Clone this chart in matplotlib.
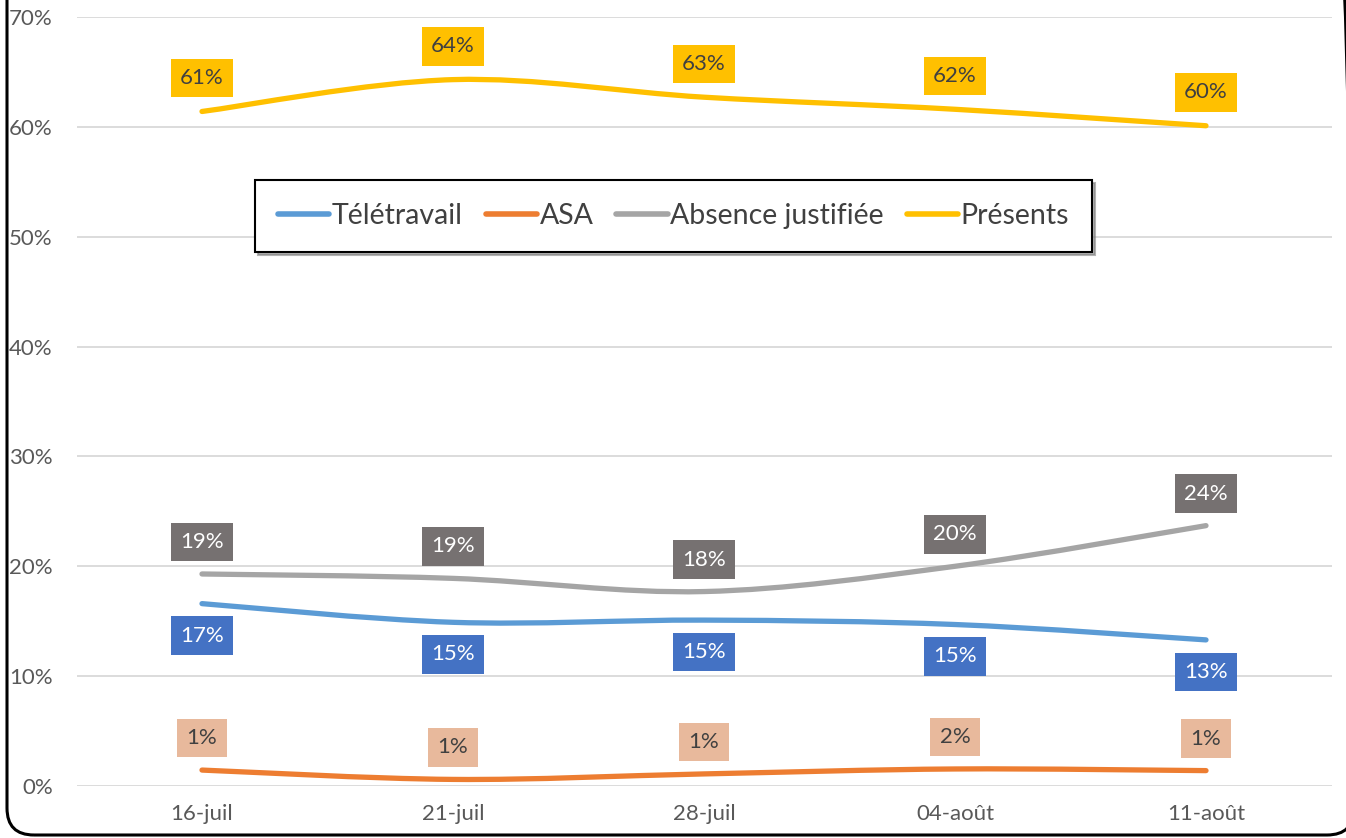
import numpy as np
import matplotlib
matplotlib.use("Agg")
import matplotlib.pyplot as plt
from matplotlib.path import Path
from matplotlib.patches import PathPatch, FancyBboxPatch
from matplotlib.lines import Line2D

plt.rcParams['font.family'] = ['Lato', 'DejaVu Sans']

dates = ["16-juil", "21-juil", "28-juil", "04-août", "11-août"]
teletravail = [16.6, 14.9, 15.1, 14.7, 13.3]
asa = [1.45, 0.6, 1.1, 1.55, 1.4]
absence = [19.3, 18.9, 17.7, 20.0, 23.7]
presents = [61.4, 64.3, 62.7, 61.6, 60.1]
series_names = ["Télétravail", "ASA", "Absence justifiée", "Présents"]

line_colors = ["#5B9BD5", "#ED7D31", "#A5A5A5", "#FFC000"]
box_colors = ["#4472C4", "#E8B99C", "#767171", "#FFC000"]
text_colors = ["white", "#404040", "white", "#404040"]
offsets = [-23, 23, 23, 24]  # points, label above (+) or below (-)


def smooth_path(xs, ys):
    # Excel-like bezier smoothing through the points
    pts = np.column_stack([xs, ys]).astype(float)
    n = len(pts)
    verts = [pts[0]]
    codes = [Path.MOVETO]
    for i in range(n - 1):
        p0 = pts[i - 1] if i > 0 else pts[i]
        p1 = pts[i]
        p2 = pts[i + 1]
        p3 = pts[i + 2] if i + 2 < n else pts[i + 1]
        c1 = p1 + (p2 - p0) / 6.0
        c2 = p2 - (p3 - p1) / 6.0
        verts += [c1, c2, p2]
        codes += [Path.CURVE4] * 3
    return Path(verts, codes)


W, H = 1346, 838
fig = plt.figure(figsize=(W / 100, H / 100), dpi=100)
ax = fig.add_axes([76.5 / W, 52 / H, (1331.5 - 76.5) / W, (786 - 17) / H])

x = np.arange(len(dates))
all_series = [teletravail, asa, absence, presents]
for vals, name, lc, bc, tc, off in zip(all_series, series_names, line_colors,
                                         box_colors, text_colors, offsets):
    patch = PathPatch(smooth_path(x, vals), facecolor="none", edgecolor=lc,
                      lw=3.8, capstyle="round", joinstyle="round", zorder=3)
    ax.add_patch(patch)
    for xi, v in zip(x, vals):
        ax.annotate(f"{round(v):.0f}%", (xi, v), xytext=(0, off),
                    textcoords="offset points", ha="center", va="center",
                    fontsize=16, color=tc, zorder=5,
                    bbox=dict(boxstyle="square,pad=0.42", fc=bc, ec="none"))

ax.set_xlim(-0.5, len(dates) - 0.5)
ax.set_ylim(0, 70)
ax.set_yticks(np.arange(0, 71, 10))
ax.set_yticklabels([f"{t}%" for t in range(0, 71, 10)])
ax.set_xticks(x)
ax.set_xticklabels(dates)
ax.tick_params(length=0, labelsize=16, labelcolor="#595959")
ax.tick_params(axis="y", pad=17)
ax.tick_params(axis="x", pad=13)
ax.grid(axis="y", color="#D9D9D9", lw=1.3)
ax.set_axisbelow(True)
for s in ax.spines.values():
    s.set_visible(False)

handles = [Line2D([], [], color=c, lw=4, solid_capstyle="round") for c in line_colors]
leg = ax.legend(handles, series_names, loc="center", bbox_to_anchor=(673.5 / W, (838 - 216) / H),
                bbox_transform=fig.transFigure, ncol=4, fontsize=20.5, frameon=True,
                fancybox=False, shadow={"color": "#7F7F7F", "alpha": 0.6},
                handlelength=1.8, handletextpad=0.1, columnspacing=0.8,
                borderpad=0.8, labelcolor="#404040")
leg.get_frame().set_edgecolor("black")
leg.get_frame().set_linewidth(1.5)

# outer chart frame (top and right cut off)
frame = FancyBboxPatch((7 / W, 3 / H), (1354 - 7) / W, 1.2, transform=fig.transFigure,
                       boxstyle="round,pad=0,rounding_size=0.02", fc="none",
                       ec="black", lw=2.2, clip_on=False, mutation_aspect=W / H)
fig.patches.append(frame)

fig.savefig("out.png", dpi=100, facecolor="white")
